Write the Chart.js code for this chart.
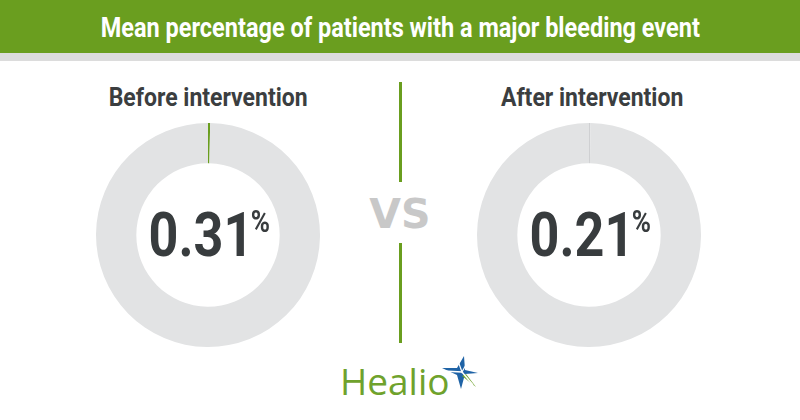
<!DOCTYPE html>
<html>
<head>
<meta charset="utf-8">
<script src="https://cdn.jsdelivr.net/npm/chart.js@4"></script>
<style>
  html, body { margin: 0; padding: 0; background: #fff; }
  body { width: 800px; height: 420px; position: relative; overflow: hidden; font-family: Roboto, "Noto Sans", sans-serif; }
  #header { position: absolute; left: 0; top: 0; width: 800px; height: 53px; background: #6a9e1f; }
  #band { position: absolute; left: 0; top: 53px; width: 800px; height: 8px; background: #dcdcdc; }
  #title { position: absolute; left: 0; top: 12px; width: 800px; text-align: center; color: #fff; font-weight: 700; font-size: 27px; line-height: 32px; }
  #title span { display: inline-block; transform: scaleX(0.87); white-space: nowrap; }
  .sub { position: absolute; top: 83px; width: 300px; text-align: center; color: #3b3e40; font-weight: 700; font-size: 25px; line-height: 30px; }
  .sub span { display: inline-block; transform: scaleX(0.92); }
  .wrap { position: absolute; top: 123px; width: 224px; height: 224px; }
  .center { position: absolute; left: 0; top: 0; width: 224px; height: 224px; display: flex; align-items: center; justify-content: center; pointer-events: none; }
  .num { color: #383c3e; font-weight: 700; font-size: 62px; line-height: 62px; display: inline-block; transform: scaleX(0.84); white-space: nowrap; position: relative; left: 1px; }
  .num sup { font-size: 31px; line-height: 34px; vertical-align: top; position: relative; top: 1px; margin-left: -3px; }
  .vline { position: absolute; left: 399px; width: 3px; background: #6a9e1f; }
  #vs { position: absolute; left: 350px; top: 192px; width: 100px; text-align: center; color: #c8c8c8; font-family: "DejaVu Sans", sans-serif; font-weight: 700; font-size: 41px; line-height: 44px; }
  #logo { position: absolute; left: 340px; top: 361px; color: #6fa22c; font-size: 37px; line-height: 40px; font-family: "Open Sans", sans-serif; }
  #star { position: absolute; left: 440px; top: 355px; }
</style>
</head>
<body>
<div id="header"></div>
<div id="band"></div>
<div id="title"><span>Mean percentage of patients with a major bleeding event</span></div>

<div class="sub" style="left:58px"><span id="sub0"></span></div>
<div class="sub" style="left:442px"><span id="sub1"></span></div>

<div class="wrap" style="left:96px"><canvas id="c0" width="224" height="224"></canvas><div class="center"><div class="num" id="num0"></div></div></div>
<div class="wrap" style="left:477px"><canvas id="c1" width="224" height="224"></canvas><div class="center"><div class="num" id="num1"></div></div></div>

<div class="vline" style="top:82px;height:100px"></div>
<div id="vs">VS</div>
<div class="vline" style="top:243px;height:100px"></div>

<div id="logo">Healio</div>
<svg id="star" width="40" height="36" viewBox="0 0 40 36">
  <polygon points="2,13 17,13 24,1 25,15 38,18 25,19 21,34 17,20" fill="#1f63a6"/>
  <polygon points="22,21 36,32 26,19" fill="#6fa22c"/>
  <polyline points="3,16 22,17 33,30" fill="none" stroke="#fff" stroke-width="1.5"/>
  <polyline points="18,6 22,17 27,8" fill="none" stroke="#fff" stroke-width="1.2"/>
</svg>

<script>
var categories = ['Before intervention', 'After intervention'];
var percentages = [0.31, 0.21];
var sliceColors = ['#6a9e1f', '#cfd0d2'];
var ringColor = '#e2e3e4';

categories.forEach(function (name, i) {
  document.getElementById('sub' + i).textContent = name;
  document.getElementById('num' + i).innerHTML = percentages[i].toFixed(2) + '<sup>%</sup>';

  new Chart(document.getElementById('c' + i), {
    type: 'doughnut',
    data: {
      labels: [name, 'Other'],
      datasets: [{
        data: [percentages[i], 100 - percentages[i]],
        backgroundColor: [sliceColors[i], ringColor],
        borderWidth: 0
      }]
    },
    options: {
      responsive: false,
      animation: false,
      cutout: '64%',
      layout: { padding: 0 },
      plugins: { legend: { display: false }, tooltip: { enabled: false } }
    }
  });
});
</script>
</body>
</html>
